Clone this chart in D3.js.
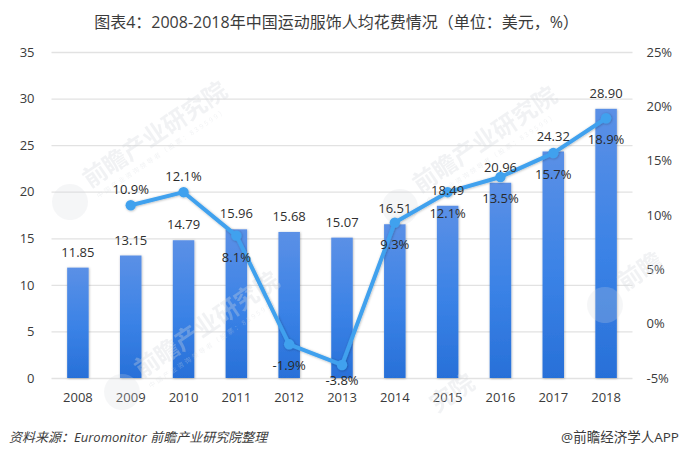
<!DOCTYPE html>
<html><head><meta charset="utf-8">
<script src="https://cdnjs.cloudflare.com/ajax/libs/d3/7.8.5/d3.min.js"></script>
<style>html,body{margin:0;padding:0;background:#fff}svg{display:block}
text{font-family:"Open Sans","Noto Sans CJK SC",sans-serif}</style></head><body>
<svg id="c" width="680" height="455"></svg>
<script>
const years=["2008","2009","2010","2011","2012","2013","2014","2015","2016","2017","2018"];
const spend=[11.85,13.15,14.79,15.96,15.68,15.07,16.51,18.49,20.96,24.32,28.90];
const growth=[null,10.9,12.1,8.1,-1.9,-3.8,9.3,12.1,13.5,15.7,18.9];
const leftTicks=[0,5,10,15,20,25,30,35];
const rightTicks=[-5,0,5,10,15,20,25];
const titleText="图表4：2008-2018年中国运动服饰人均花费情况（单位：美元，%）";
const sourceText="资料来源：Euromonitor 前瞻产业研究院整理";
const creditText="@前瞻经济学人APP";
const watermarks=[
  {a:70,b:202,t:"前瞻产业研究院",sub:true,logo:true},
  {a:122,b:392,t:"前瞻产业研究院",sub:true,logo:true},
  {a:400,b:207,t:"前瞻产业研究院",sub:true,logo:true},
  {a:605,b:305,t:"前瞻",sub:false,logo:true},
  {a:417,b:427,t:"究院",sub:false,logo:false}
];

const svg=d3.select("#c");
const m={l:51.5,r:632.5,t:52,b:378};
const x=d3.scaleBand().domain(years).range([m.l,m.r]);
const yL=d3.scaleLinear().domain([0,35]).range([m.b,m.t]);
const yR=d3.scaleLinear().domain([-5,25]).range([m.b,m.t]);
const cx=d=>x(d)+x.bandwidth()/2;
const ink="#3b3b3b";

const defs=svg.append("defs");
const g=defs.append("linearGradient").attr("id","bar").attr("x1",0).attr("y1",0).attr("x2",0).attr("y2",1);
g.append("stop").attr("offset","0").attr("stop-color","#5b90e6");
g.append("stop").attr("offset","0.55").attr("stop-color","#3a82e6");
g.append("stop").attr("offset","1").attr("stop-color","#2870d8");
const s=defs.append("filter").attr("id","sh").attr("x","-30%").attr("y","-30%").attr("width","160%").attr("height","160%");
s.append("feDropShadow").attr("dx",0.5).attr("dy",0.5).attr("stdDeviation",1.3).attr("flood-color","#000").attr("flood-opacity",0.3);

svg.append("g").call(d3.axisLeft(yL).tickValues(leftTicks).tickSize(-(m.r-m.l)).tickFormat(d3.format("d")))
  .attr("transform",`translate(${m.l},0)`)
  .call(a=>{a.select(".domain").remove();
    a.selectAll("line").attr("stroke","#e2e2e2").attr("stroke-width",1.3);
    a.selectAll("text").attr("x",-17).attr("fill",ink).attr("font-size",13).attr("dy","0.32em");});

svg.append("g").attr("transform",`translate(${m.r},0)`)
  .call(d3.axisRight(yR).tickValues(rightTicks).tickSize(0).tickFormat(d=>d+"%"))
  .call(a=>{a.select(".domain").remove();
    a.selectAll("text").attr("x",14).attr("fill",ink).attr("font-size",13).attr("dy","0.32em");});

svg.append("g").attr("transform",`translate(0,${m.b})`)
  .call(d3.axisBottom(x).tickSize(0))
  .call(a=>{a.select(".domain").remove();
    a.selectAll("text").attr("y",15).attr("fill",ink).attr("font-size",13).attr("dy","0.71em");});

const bw=21.5;
svg.append("g").selectAll("rect").data(years).join("rect")
  .attr("x",d=>cx(d)-bw/2).attr("width",bw)
  .attr("y",(d,i)=>yL(spend[i])).attr("height",(d,i)=>m.b-yL(spend[i]))
  .attr("fill","url(#bar)").attr("filter","url(#sh)");

const wm=svg.append("g").attr("pointer-events","none");
watermarks.forEach(w=>{
  const t=wm.append("g").attr("transform",`translate(${w.a},${w.b}) rotate(-34)`).attr("opacity",0.32);
  if(w.logo) t.append("circle").attr("r",18).attr("fill","#d5d9de").attr("opacity",0.7);
  t.append("text").attr("x",24).attr("y",0).attr("font-size",24).attr("font-weight",700).attr("fill","#d5d9de").text(w.t);
  if(w.sub) t.append("text").attr("x",26).attr("y",13).attr("font-size",6.5).attr("letter-spacing",2.1).attr("fill","#d5d9de").text("中国产业咨询领导者（股票：839599）");
});

const pts=years.map((d,i)=>({d,v:growth[i]})).filter(p=>p.v!==null);
const ln=d3.line().x(p=>cx(p.d)).y(p=>yR(p.v));
const lg=svg.append("g").attr("filter","url(#sh)");
lg.append("path").attr("d",ln(pts)).attr("fill","none").attr("stroke","#41a1ee").attr("stroke-width",4).attr("stroke-linejoin","round").attr("stroke-linecap","round");
lg.selectAll("circle").data(pts).join("circle").attr("cx",p=>cx(p.d)).attr("cy",p=>yR(p.v)).attr("r",5.2).attr("fill","#41a1ee");

svg.append("g").selectAll("text").data(years).join("text")
  .attr("x",cx).attr("y",(d,i)=>yL(spend[i])-15.5).attr("dy","0.35em")
  .attr("text-anchor","middle").attr("font-size",13).attr("fill","#2f2f2f")
  .text((d,i)=>spend[i].toFixed(2));

svg.append("g").selectAll("text").data(pts).join("text")
  .attr("x",p=>cx(p.d)).attr("y",p=>Math.min(yR(p.v)+(p.v>10&&p.d<"2011"?-16:21.5),380)).attr("dy","0.35em")
  .attr("text-anchor","middle").attr("font-size",13).attr("fill","#2a2a2a")
  .text(p=>p.v.toFixed(1)+"%");

svg.append("text").attr("x",336.5).attr("y",22).attr("dy","0.35em").attr("text-anchor","middle")
  .attr("font-size",16).attr("fill",ink).text(titleText);
svg.append("text").attr("x",9).attr("y",437).attr("dy","0.35em").attr("font-size",13)
  .attr("font-style","italic").attr("fill",ink).text(sourceText);
svg.append("text").attr("x",679).attr("y",437).attr("dy","0.35em").attr("text-anchor","end")
  .attr("font-size",13.5).attr("fill",ink).text(creditText);
</script></body></html>
